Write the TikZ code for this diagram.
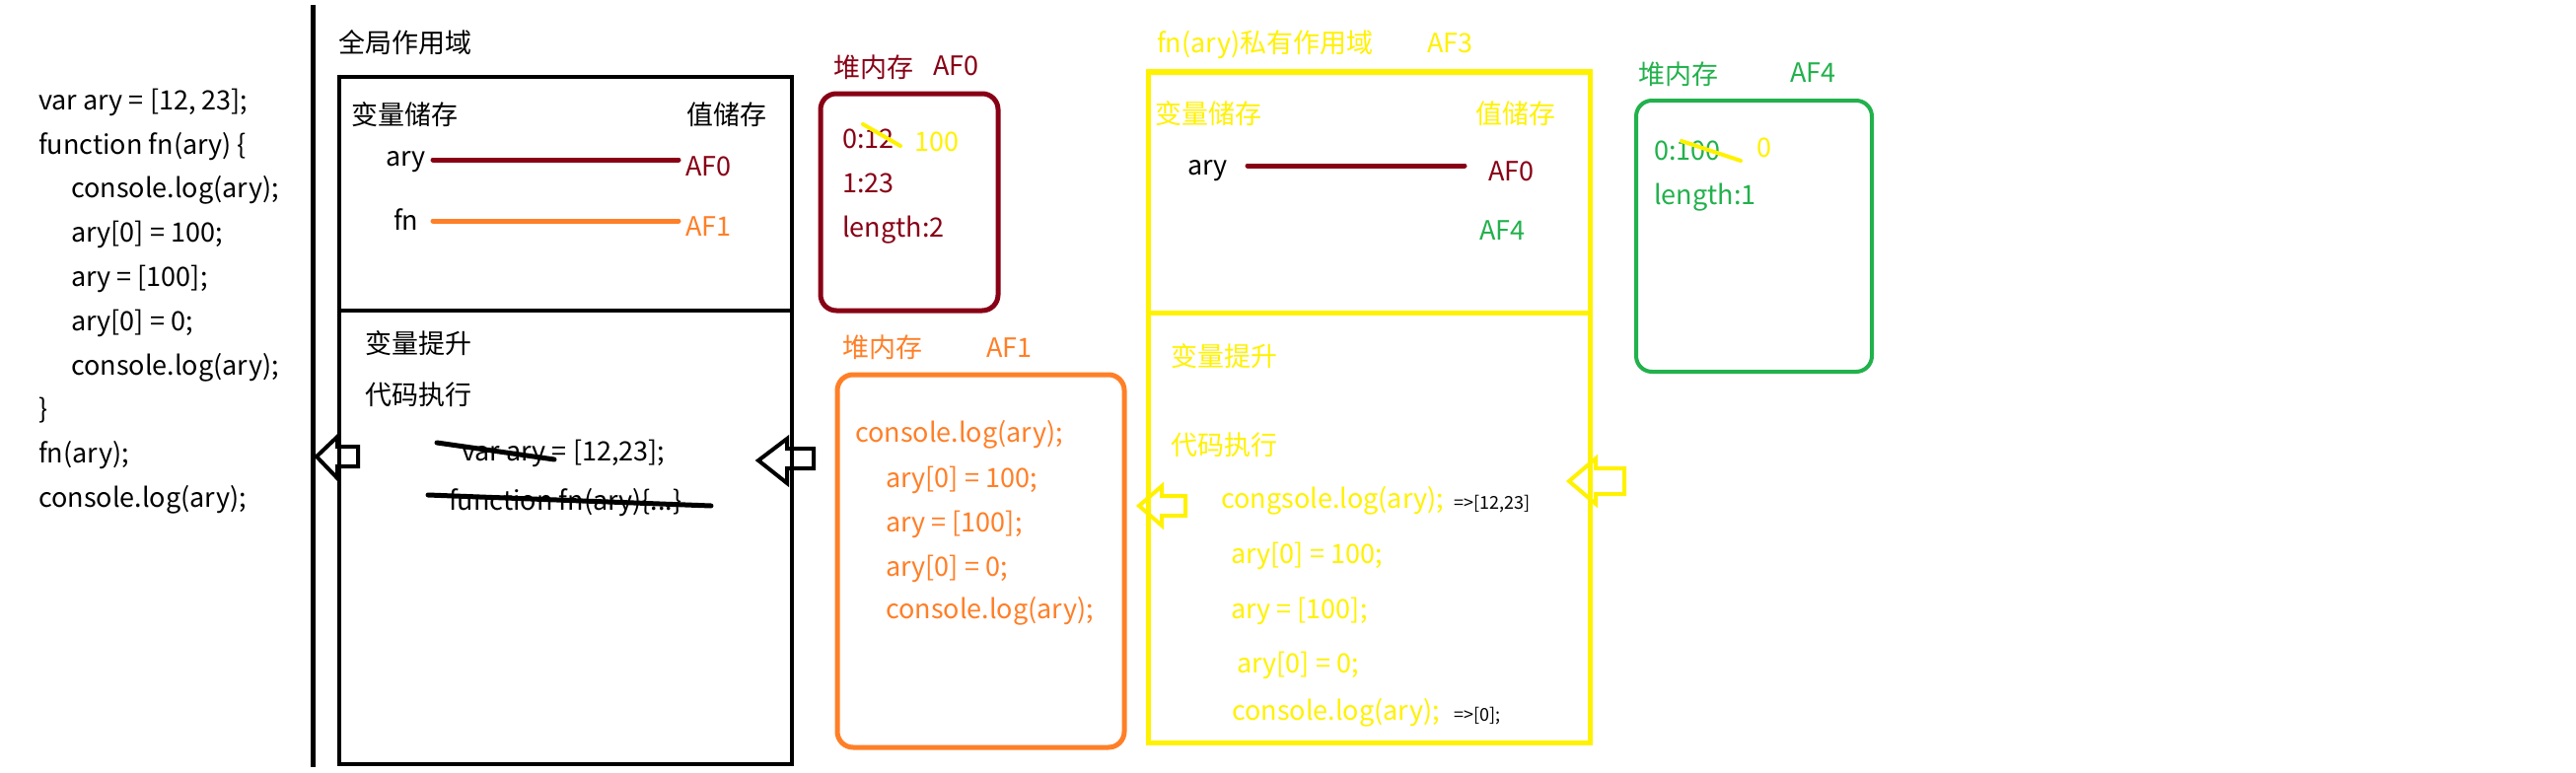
\documentclass[tikz,border=0pt]{standalone}
\usepackage{fontspec}
\setmainfont{Noto Sans CJK SC}
\definecolor{dred}{HTML}{880015}
\definecolor{ora}{HTML}{FF7F27}
\definecolor{yel}{HTML}{FFF200}
\definecolor{grn}{HTML}{22B14C}
\tikzset{
  txt/.style={anchor=base west,inner sep=0pt,font=\fontsize{27}{32}\selectfont},
  smalltxt/.style={anchor=base west,inner sep=0pt,font=\fontsize{18}{21}\selectfont},
  box/.style={draw,line width=4pt,anchor=north west,inner sep=0pt,outer sep=0pt},
  heapbox/.style={draw,line width=5pt,rounded corners=16pt,anchor=north west,inner sep=0pt,outer sep=0pt},
  link/.style={line width=5pt,line cap=round},
  strike/.style={line width=5pt,line cap=round},
  hollow/.style={line width=4pt,line join=miter},
}
\begin{document}
\begin{tikzpicture}[x=1pt,y=-1pt]
\useasboundingbox (0,0) rectangle (2612,784);
\fill[white] (0,0) rectangle (2612,784);

% left code
\node[txt] (c1) at (39,111) {var ary = [12, 23];};
\node[txt] (c2) at (39,156) {function fn(ary) \{};
\node[txt] (c3) at (72,200) {console.log(ary);};
\node[txt] (c4) at (72,245) {ary[0] = 100;};
\node[txt] (c5) at (72,290) {ary = [100];};
\node[txt] (c6) at (72,335) {ary[0] = 0;};
\node[txt] (c7) at (72,380) {console.log(ary);};
\node[txt] (c8) at (39,424) {\}};
\node[txt] (c9) at (39,469) {fn(ary);};
\node[txt] (c10) at (39,514) {console.log(ary);};

% separator
\draw[line width=5pt] (317,5) -- (317,778);

% global scope
\node[txt] (gtitle) at (343,53) {全局作用域};
\node[box,minimum width=459pt,minimum height=237pt] (gtop) at (344,78) {};
\node[box,minimum width=459pt,minimum height=460pt] (gbot) at (344,315) {};
\node[txt] (gvs) at (356,126) {变量储存};
\node[txt] (gvals) at (696,126) {值储存};
\node[txt] (gary) at (391,168) {ary};
\node[txt,text=dred] (gaf0) at (695,178) {AF0};
\node[txt] (gfn) at (399,233) {fn};
\node[txt,text=ora] (gaf1) at (695,239) {AF1};
\coordinate (ga1) at (439,162); \coordinate (ga2) at (688,162);
\coordinate (gf1) at (439,224); \coordinate (gf2) at (688,224);
\draw[link,dred] (ga1) -- (ga2);
\draw[link,ora] (gf1) -- (gf2);
\node[txt] (gup) at (370,358) {变量提升};
\node[txt] (gexe) at (370,410) {代码执行};
\node[txt] (gvar) at (468,467) {var ary = [12,23];};
\node[txt] (gfun) at (455,517) {function fn(ary)\{...\}};
\draw[strike] (443,449) -- (562,466);
\draw[strike] (434,502) -- (721,513);

% black hollow arrows
\draw[hollow] (321,463) -- (342,443) -- (342,453) -- (363,453) -- (363,473) -- (342,473) -- (342,485) -- cycle;
\draw[hollow] (769,467) -- (798,445) -- (798,455) -- (825,455) -- (825,475) -- (798,475) -- (798,490) -- cycle;

% heap AF0
\node[txt,text=dred] (h0t) at (845,78) {堆内存};
\node[txt,text=dred] (h0a) at (946,77) {AF0};
\node[heapbox,dred,minimum width=180pt,minimum height=220pt] (h0box) at (832,95) {};
\node[txt,text=dred] (h0l1) at (854,150) {0:12};
\node[txt,text=yel] (h0n) at (927,153) {100};
\node[txt,text=dred] (h0l2) at (854,195) {1:23};
\node[txt,text=dred] (h0l3) at (854,240) {length:2};
\draw[strike,yel,line width=4pt] (875,126) -- (913,148);

% heap AF1
\node[txt,text=ora] (h1t) at (854,362) {堆内存};
\node[txt,text=ora] (h1a) at (1000,362) {AF1};
\node[heapbox,ora,minimum width=291pt,minimum height=378pt] (h1box) at (849,380) {};
\node[txt,text=ora] (o1) at (867,448) {console.log(ary);};
\node[txt,text=ora] (o2) at (898,494) {ary[0] = 100;};
\node[txt,text=ora] (o3) at (898,539) {ary = [100];};
\node[txt,text=ora] (o4) at (898,584) {ary[0] = 0;};
\node[txt,text=ora] (o5) at (898,627) {console.log(ary);};

% private scope
\node[txt,text=yel] (ytitle) at (1173,53) {fn(ary)私有作用域};
\node[txt,text=yel] (yaf3) at (1447,53) {AF3};
\node[box,yel,line width=5pt,minimum width=448pt,minimum height=244pt] (ytop) at (1164,73) {};
\node[box,yel,line width=5pt,minimum width=448pt,minimum height=436pt] (ybot) at (1164,317) {};
\node[txt,text=yel] (yvs) at (1171,125) {变量储存};
\node[txt,text=yel] (yvals) at (1496,125) {值储存};
\node[txt] (yary) at (1204,177) {ary};
\node[txt,text=dred] (yaf0) at (1509,183) {AF0};
\node[txt,text=grn] (yaf4) at (1500,243) {AF4};
\coordinate (ya1) at (1265,168); \coordinate (ya2) at (1485,168);
\draw[link,dred] (ya1) -- (ya2);
\node[txt,text=yel] (yup) at (1187,371) {变量提升};
\node[txt,text=yel] (yexe) at (1187,461) {代码执行};
\node[txt,text=yel] (y1) at (1238,515) {congsole.log(ary);};
\node[smalltxt] (r1) at (1474,516) {=>[12,23]};
\node[txt,text=yel] (y2) at (1248,571) {ary[0] = 100;};
\node[txt,text=yel] (y3) at (1248,627) {ary = [100];};
\node[txt,text=yel] (y4) at (1254,682) {ary[0] = 0;};
\node[txt,text=yel] (y5) at (1249,730) {console.log(ary);};
\node[smalltxt] (r2) at (1474,731) {=>[0];};

% yellow hollow arrows
\draw[hollow,yel] (1155,513) -- (1178,493) -- (1178,503) -- (1202,503) -- (1202,523) -- (1178,523) -- (1178,533) -- cycle;
\draw[hollow,yel] (1591,488) -- (1618,465) -- (1618,475) -- (1647,475) -- (1647,501) -- (1618,501) -- (1618,511) -- cycle;

% heap AF4
\node[txt,text=grn] (h4t) at (1661,85) {堆内存};
\node[txt,text=grn] (h4a) at (1815,84) {AF4};
\node[heapbox,grn,line width=4pt,minimum width=239pt,minimum height=275pt] (h4box) at (1659,102) {};
\node[txt,text=grn] (g1) at (1677,162) {0:100};
\node[txt,text=yel] (g0) at (1781,159) {0};
\node[txt,text=grn] (g2) at (1677,207) {length:1};
\draw[strike,yel,line width=4pt] (1705,143) -- (1765,163);
\end{tikzpicture}
\end{document}
